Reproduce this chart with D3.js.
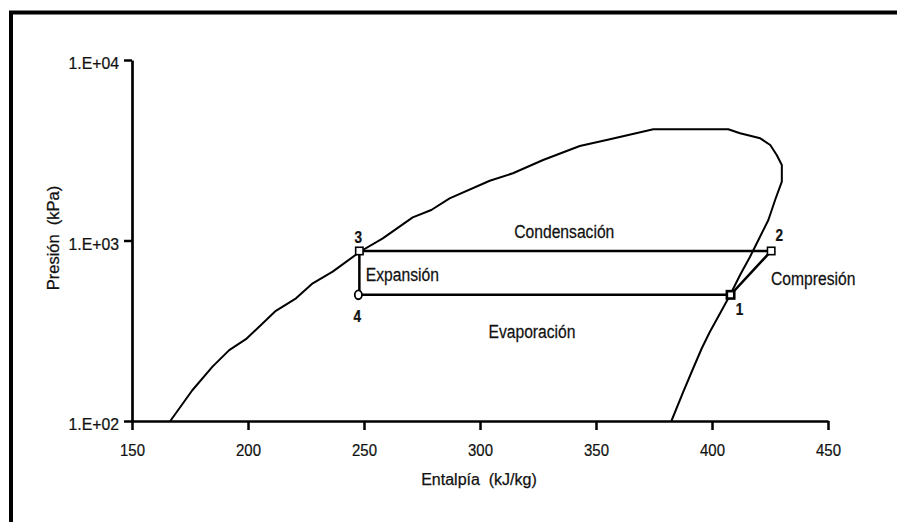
<!DOCTYPE html>
<html>
<head>
<meta charset="utf-8">
<script src="https://cdn.jsdelivr.net/npm/d3@7"></script>
<style>
  html, body { margin: 0; padding: 0; background: #fff; }
  svg { display: block; }
  text { font-family: "Liberation Sans", Arial, Helvetica, sans-serif; fill: #111; stroke: #111; stroke-width: 0.25px; }
</style>
</head>
<body>
<svg id="chart" width="897" height="522"></svg>
<script>
// ---- data ----
const xTicks = [150, 200, 250, 300, 350, 400, 450];
const yTicks = [100, 1000, 10000];
const yTickLabels = ["1.E+02", "1.E+03", "1.E+04"];
const xTitle = "Entalpía  (kJ/kg)";
const yTitle = "Presión  (kPa)";

// saturation dome: enthalpy (kJ/kg) and pressure (kPa)
const domeEnthalpy = [166.5, 176.0, 184.7, 191.9, 199.1, 204.8, 212.0, 220.7, 227.9, 236.5,
  248.4, 258.1, 271.0, 279.0, 286.9, 304.2, 314.2, 327.2, 343.0, 356.0,
  374.7, 407.0, 412.1, 420.8, 425.1, 427.9, 430.1, 430.1, 427.2, 424.3,
  420.0, 416.4, 412.1, 407.8, 403.5, 399.1, 395.6, 391.9, 387.6, 382.5];
const domePressure = [100, 148, 200, 247, 284, 333, 408, 478, 579, 672,
  869, 1028, 1344, 1476, 1713, 2144, 2357, 2793, 3338, 3636,
  4130, 4130, 3926, 3683, 3382, 2977, 2620, 2118, 1676, 1299,
  1006, 813, 644, 499, 395, 312, 253, 196, 145, 100];

// refrigeration cycle states
const cycleNames = ["1", "2", "3", "4"];
const cycleEnthalpy = [408, 425.5, 248, 248];
const cyclePressure = [500, 875, 875, 500];
const cycleOrder = [3, 0, 1, 2, 3];

const processLabels = ["Condensación", "Expansión", "Evaporación", "Compresión"];

// ---- layout ----
const svg = d3.select("#chart");
const x = d3.scaleLinear().domain([150, 450]).range([132, 828]);
const y = d3.scaleLog().domain([100, 10000]).range([421, 60]);

function narrow(sel, k) {
  sel.each(function () {
    const t = d3.select(this);
    const x0 = +t.attr("x") || 0;
    t.attr("x", x0 / k).attr("transform", `scale(${k},1)`);
  });
}

// frame
svg.append("rect")
  .attr("x", 11).attr("y", 12.5)
  .attr("width", 920).attr("height", 540)
  .attr("fill", "none").attr("stroke", "#000").attr("stroke-width", 4);

// axes
const gx = svg.append("g").attr("transform", `translate(0,${y(100)})`)
  .call(d3.axisBottom(x).tickValues(xTicks).tickFormat(d3.format("d"))
    .tickSize(9).tickSizeOuter(0).tickPadding(14));
const gy = svg.append("g").attr("transform", `translate(${x(150)},0)`)
  .call(d3.axisLeft(y).tickValues(yTicks).tickFormat((d, i) => yTickLabels[i])
    .tickSize(8).tickSizeOuter(0).tickPadding(5));

[gx, gy].forEach(g => {
  g.select(".domain").attr("stroke", "#000").attr("stroke-width", 2.7);
  g.selectAll(".tick line").attr("stroke", "#000").attr("stroke-width", 2.5);
  g.selectAll(".tick text").attr("font-size", 17).attr("fill", "#111")
    .style("font-family", '"Liberation Sans", Arial, sans-serif');
});
gy.selectAll(".tick text").attr("dy", "0.5em");
narrow(gx.selectAll(".tick text"), 0.88);
narrow(gy.selectAll(".tick text"), 0.93);

// axis titles
svg.append("text")
  .attr("x", 479).attr("y", 485)
  .attr("text-anchor", "middle").attr("font-size", 16)
  .style("white-space", "pre")
  .text(xTitle);
svg.append("text")
  .attr("transform", "translate(59,238) rotate(-90)")
  .attr("text-anchor", "middle").attr("font-size", 16.5)
  .style("white-space", "pre")
  .text(yTitle);

// dome
const domeData = domeEnthalpy.map((h, i) => [h, domePressure[i]]);
const line = d3.line().x(d => x(d[0])).y(d => y(d[1])).curve(d3.curveLinear);
svg.append("path")
  .datum(domeData)
  .attr("d", line)
  .attr("fill", "none").attr("stroke", "#000").attr("stroke-width", 2)
  .attr("stroke-linejoin", "round");

// cycle
const cycleData = cycleOrder.map(i => [cycleEnthalpy[i], cyclePressure[i]]);
svg.append("path")
  .datum(cycleData)
  .attr("d", line)
  .attr("fill", "none").attr("stroke", "#000").attr("stroke-width", 2.5)
  .attr("stroke-linejoin", "miter");

// markers
cycleNames.forEach((n, i) => {
  const cx = x(cycleEnthalpy[i]), cy = y(cyclePressure[i]);
  if (n === "4") {
    svg.append("ellipse").attr("cx", cx - 1).attr("cy", cy)
      .attr("rx", 3.6).attr("ry", 4.4)
      .attr("fill", "#fff").attr("stroke", "#000").attr("stroke-width", 1.8);
  } else {
    svg.append("rect").attr("x", cx - 3.7).attr("y", cy - 3.7)
      .attr("width", 7.4).attr("height", 7.4)
      .attr("fill", "#fff").attr("stroke", "#000")
      .attr("stroke-width", n === "1" ? 2.6 : 1.6);
  }
});

// state numbers
const numOffsets = { "1": [9, 20], "2": [8, -10], "3": [-1, -8], "4": [-2, 27] };
cycleNames.forEach((n, i) => {
  const cx = x(cycleEnthalpy[i]) + numOffsets[n][0];
  const cy = y(cyclePressure[i]) + numOffsets[n][1];
  svg.append("text")
    .attr("transform", `translate(${cx},${cy}) scale(0.85,1)`)
    .attr("text-anchor", "middle").attr("font-size", 16).attr("font-weight", "bold")
    .text(n);
});

// process labels
const xs = cycleEnthalpy.map(h => x(h));
const yHigh = y(cyclePressure[1]), yLow = y(cyclePressure[0]);
const labelPos = [
  [(xs[2] + xs[1]) / 2 - 1, yHigh - 13],
  [xs[2] + 43, (yHigh + yLow) / 2 + 8],
  [(xs[3] + xs[0]) / 2 - 13, yLow + 43],
  [xs[1] + 42, (yHigh + yLow) / 2 + 12]
];
processLabels.forEach((t, i) => {
  svg.append("text")
    .attr("transform", `translate(${labelPos[i][0]},${labelPos[i][1]}) scale(0.87,1)`)
    .attr("text-anchor", "middle").attr("font-size", 18)
    .text(t);
});
</script>
</body>
</html>
